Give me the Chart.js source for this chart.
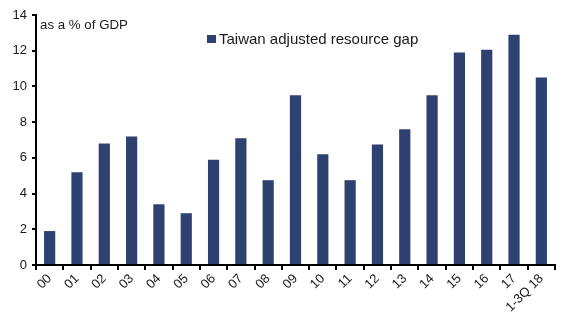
<!DOCTYPE html>
<html>
<head>
<meta charset="utf-8">
<script src="https://cdn.jsdelivr.net/npm/chart.js@4/dist/chart.umd.min.js"></script>
<style>
  html, body { margin: 0; padding: 0; background: #fff; }
  #container { width: 577px; height: 322px; position: relative; }
</style>
</head>
<body>
<div id="container"><canvas id="app"></canvas></div>
<script>
const years = ['00', '01', '02', '03', '04', '05', '06', '07', '08', '09',
  '10', '11', '12', '13', '14', '15', '16', '17', '1-3Q 18']
const resourceGap = [1.9, 5.2, 6.8, 7.2, 3.4, 2.9, 5.9, 7.1, 4.75, 9.5,
  6.2, 4.75, 6.75, 7.6, 9.5, 11.9, 12.05, 12.9, 10.5]
const seriesName = 'Taiwan adjusted resource gap'
const unitLabel = 'as a % of GDP'

const barColor = '#2f4170'
const textColor = '#1a1a1a'
const fontFamily = '"Liberation Sans", Arial, sans-serif'
const font = { family: fontFamily, size: 13 }

// unit label + legend drawn inside the plot
const annotations = {
  id: 'annotations',
  afterDraw(chart) {
    const ctx = chart.ctx
    const area = chart.chartArea
    ctx.save()
    ctx.fillStyle = textColor
    ctx.textBaseline = 'alphabetic'
    ctx.font = `13.3px ${fontFamily}`
    ctx.fillText(unitLabel, area.left + 4, 29)
    ctx.fillStyle = barColor
    ctx.fillRect(207, 35, 9, 8)
    ctx.fillStyle = textColor
    ctx.font = `15px ${fontFamily}`
    ctx.fillText(seriesName, 219, 44)
    ctx.restore()
  }
}

new Chart(document.getElementById('app'), {
  type: 'bar',
  data: {
    labels: years,
    datasets: [{
      label: seriesName,
      data: resourceGap,
      backgroundColor: barColor,
      barPercentage: 0.41,
      categoryPercentage: 1
    }]
  },
  options: {
    responsive: true,
    maintainAspectRatio: false,
    animation: false,
    layout: { padding: { top: 15, right: 22, left: 0, bottom: 0 } },
    plugins: {
      legend: { display: false },
      tooltip: { enabled: false }
    },
    scales: {
      x: {
        offset: true,
        grid: {
          offset: true,
          drawOnChartArea: false,
          drawTicks: true,
          tickLength: 5,
          color: '#000',
          lineWidth: 2
        },
        border: { color: '#000', width: 2 },
        ticks: {
          color: textColor,
          font: font,
          minRotation: 45,
          maxRotation: 45,
          autoSkip: false,
          padding: 1
        },
        afterFit(scale) { scale.height = 57 }
      },
      y: {
        min: 0,
        max: 14,
        grid: {
          drawOnChartArea: false,
          drawTicks: true,
          tickLength: 4,
          color: '#000',
          lineWidth: 2
        },
        border: { color: '#000', width: 2 },
        ticks: {
          stepSize: 2,
          color: textColor,
          font: font,
          padding: 5
        },
        afterFit(scale) { scale.width = 36 }
      }
    }
  },
  plugins: [annotations]
})
</script>
</body>
</html>
